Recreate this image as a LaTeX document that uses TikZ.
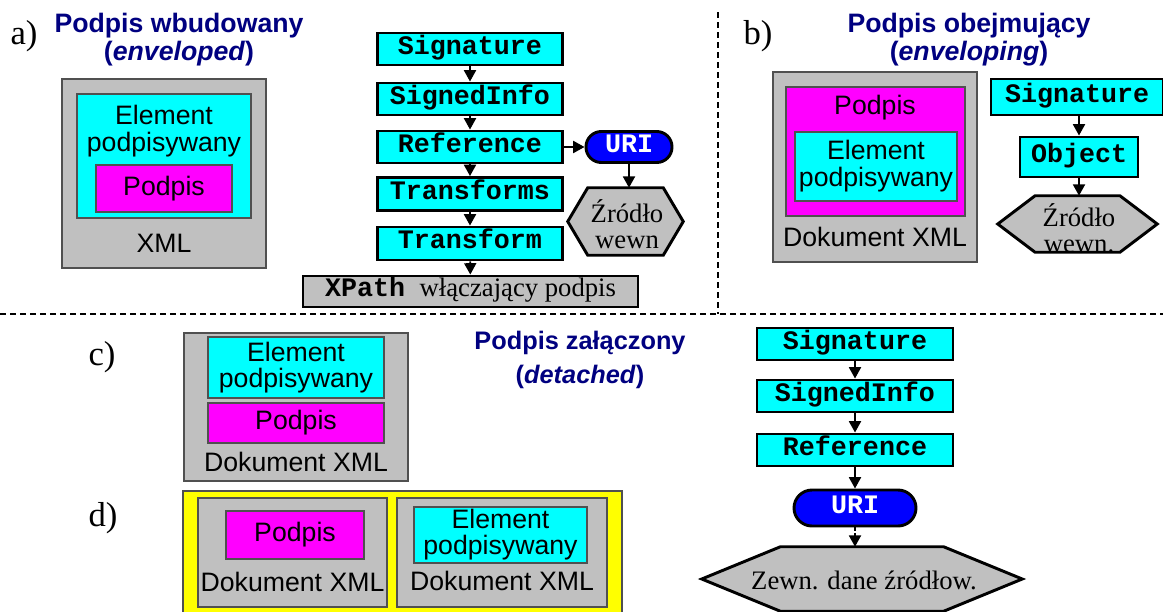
\documentclass[tikz,border=0pt]{standalone}
\usepackage{fontspec}
\setmainfont{Liberation Sans}
\newfontfamily\tmsfont{Liberation Serif}
\newfontfamily\crfont{Liberation Mono}
\usetikzlibrary{arrows.meta}
\definecolor{cy}{HTML}{00FFFF}
\definecolor{mg}{HTML}{FF00FF}
\definecolor{gr}{HTML}{C0C0C0}
\definecolor{bl}{HTML}{0000FF}
\definecolor{yl}{HTML}{FFFF00}
\definecolor{nv}{HTML}{000080}
\definecolor{edge}{HTML}{505050}
\begin{document}
\begin{tikzpicture}[x=0.75pt,y=-0.75pt,
  sz/.style 2 args={minimum width={#1*0.75pt}, minimum height={#2*0.75pt}, inner sep=0pt},
  gbox/.style={fill=gr, draw=edge, line width=0.8pt},
  cbox/.style={fill=cy, draw=edge, line width=0.8pt},
  mbox/.style={fill=mg, draw=edge, line width=0.8pt},
  ybox/.style={fill=yl, draw=edge, line width=0.8pt},
  txt/.style={font=\fontsize{20}{20.3}\selectfont, align=center, inner sep=0pt},
  fbox/.style={fill=cy, draw=black, line width=2.2pt, font=\crfont\bfseries\fontsize{20}{22}\selectfont, text height=11pt, text depth=3pt},
  xbox/.style={fill=gr, draw=black, line width=2.2pt, font=\fontsize{20}{22}\selectfont, text height=11pt, text depth=3pt},
  ubox/.style={fill=bl, draw=black, line width=2.2pt, text=white, font=\crfont\bfseries\fontsize{20}{22}\selectfont, text height=11pt, text depth=3pt},
  hexs/.style={fill=gr, draw=black, line width=2.2pt, line join=miter},
  htxt/.style={font=\tmsfont\fontsize{20}{19.5}\selectfont, align=center, inner sep=0pt},
  arr/.style={-{Triangle[length=8.5pt,width=9pt]}, line width=1.4pt},
  sep/.style={dash pattern=on 4.5pt off 3pt, line width=0.9pt},
  ttl/.style={font=\bfseries\fontsize{20}{21}\selectfont, text=nv, align=center, inner sep=0pt},
  lbl/.style={font=\tmsfont\fontsize{26}{26}\selectfont, inner sep=0pt}
]
\useasboundingbox (0,0) rectangle (1163,611);
\clip (0,0) rectangle (1163,611);

% ---------- separators
\coordinate (v1) at (718,12);
\coordinate (v2) at (718,314);
\coordinate (h1) at (0,314);
\coordinate (h2) at (1163,314);
\draw[sep] (v1) -- (v2);
\draw[sep] (h1) -- (h2);

% ---------- a)
\node[lbl] (la) at (24,36) {a)};
\node[ttl] (ta) at (179,40) {Podpis wbudowany\\(\textit{enveloped})};
\node[gbox,sz={204}{189}] (ga) at (164,173.5) {};
\node[cbox,sz={174}{124}] (ca) at (164,156) {};
\node[txt] (ca-t) at (164,131) {Element\\podpisywany};
\node[mbox,sz={136}{47},txt] (ma) at (164,188.5) {Podpis};
\node[txt] (ga-t) at (164,243) {XML};

\node[fbox,sz={185}{32}] (s1) at (470,49) {Signature};
\node[fbox,sz={185}{32}] (s2) at (470,99) {SignedInfo};
\node[fbox,sz={185}{32}] (s3) at (470,147) {Reference};
\node[fbox,sz={185}{33}] (s4) at (470,194) {Transforms};
\node[fbox,sz={185}{33}] (s5) at (470,243.5) {Transform};
\node[xbox,sz={335}{31}] (xp) at (470.5,291.5) {{\crfont\bfseries XPath}\hspace{11pt}{\tmsfont włączający podpis}};
\node[ubox,sz={86}{31},rounded corners=11.5pt] (uri) at (629,147) {URI};
\node[sz={115}{67}] (hexa) at (625.5,221.5) {};
\draw[hexs] (hexa.west) -- ([xshift=15pt]hexa.north west) -- ([xshift=-15pt]hexa.north east) -- (hexa.east) -- ([xshift=-15pt]hexa.south east) -- ([xshift=15pt]hexa.south west) -- cycle;
\node[htxt] (hexa-t) at (627,224) {Źródło\\wewn};

\draw[arr] (s1) -- (s2);
\draw[arr] (s2) -- (s3);
\draw[arr] (s3) -- (s4);
\draw[arr] (s4) -- (s5);
\draw[arr] (s5) -- (xp);
\draw[arr] (s3) -- (uri);
\draw[arr] (uri.south) -- (uri.south |- hexa.north);

% ---------- b)
\node[lbl] (lb) at (758,36) {b)};
\node[ttl] (tb) at (969,40) {Podpis obejmujący\\(\textit{enveloping})};
\node[gbox,sz={204}{190}] (gb) at (875,167) {};
\node[mbox,sz={179}{129}] (mb) at (875.5,151.5) {};
\node[txt] (mb-t) at (875,108) {Podpis};
\node[cbox,sz={162}{69},txt] (cb) at (876,166.5) {Element\\podpisywany};
\node[txt] (gb-t) at (875,237) {Dokument XML};

\node[fbox,sz={172}{36}] (sb) at (1077,97) {Signature};
\node[fbox,sz={118}{40}] (ob) at (1079,157) {Object};
\node[sz={159}{56}] (hexb) at (1077.5,224) {};
\draw[hexs] (hexb.west) -- ([xshift=28pt]hexb.north west) -- ([xshift=-28pt]hexb.north east) -- (hexb.east) -- ([xshift=-28pt]hexb.south east) -- ([xshift=28pt]hexb.south west) -- cycle;
\node[htxt] (hexb-t) at (1079,228) {Źródło\\wewn.};
\draw[arr] (sb.south -| ob) -- (ob);
\draw[arr] (ob) -- (ob |- hexb.north);

% ---------- c)
\node[lbl] (lc) at (102,357) {c)};
\node[ttl,font=\bfseries\fontsize{19}{25}\selectfont] (tc) at (580,360) {Podpis załączony\\(\textit{detached})};
\node[gbox,sz={224}{148}] (gc) at (296,407) {};
\node[cbox,sz={176}{61},txt,font=\fontsize{20}{19.5}\selectfont] (cc) at (296,367.5) {Element\\podpisywany};
\node[mbox,sz={176}{40},txt] (mc) at (296,423) {Podpis};
\node[txt] (gc-t) at (296,462) {Dokument XML};

% ---------- d)
\node[lbl] (ld) at (103,518) {d)};
\node[ybox,sz={439}{130}] (yd) at (402.5,556) {};
\node[gbox,sz={189}{109}] (gd1) at (292.5,552.5) {};
\node[mbox,sz={138}{48},txt] (md1) at (295,535) {Podpis};
\node[txt] (gd1-t) at (292.5,582) {Dokument XML};
\node[gbox,sz={210}{109}] (gd2) at (502,552.5) {};
\node[cbox,sz={173}{56},txt,font=\fontsize{20}{19.5}\selectfont] (cd2) at (500.5,535) {Element\\podpisywany};
\node[txt] (gd2-t) at (502,581) {Dokument XML};

% ---------- detached flow
\node[fbox,sz={196}{32}] (s6) at (855,344) {Signature};
\node[fbox,sz={196}{32}] (s7) at (855,396) {SignedInfo};
\node[fbox,sz={196}{32}] (s8) at (855,450) {Reference};
\node[ubox,sz={122}{36},rounded corners=13.5pt] (uri2) at (855,508) {URI};
\node[sz={320}{64}] (hexc) at (862,579) {};
\draw[hexs] (hexc.west) -- ([xshift=59pt]hexc.north west) -- ([xshift=-59pt]hexc.north east) -- (hexc.east) -- ([xshift=-59pt]hexc.south east) -- ([xshift=59pt]hexc.south west) -- cycle;
\node[htxt] (hexc-t) at (864,580) {Zewn. dane źródłow.};
\draw[arr] (s6) -- (s7);
\draw[arr] (s7) -- (s8);
\draw[arr] (s8) -- (uri2);
\draw[arr, dash pattern=on 2.5pt off 1.5pt] (uri2.south) -- (uri2.south |- hexc.north);
\end{tikzpicture}
\end{document}
